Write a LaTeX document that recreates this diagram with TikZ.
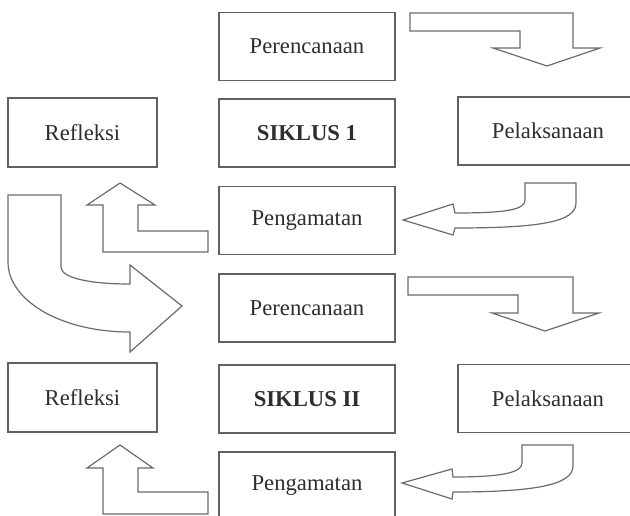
\documentclass[tikz,border=0pt]{standalone}
\usepackage{fontspec}
\setmainfont{Liberation Serif}
\begin{document}
\begin{tikzpicture}[x=0.75pt,y=-0.75pt,
  box/.style={draw=black!62, line width=1.1pt, fill=white, inner sep=0pt,
    text=black!82, font=\fontsize{17}{20}\selectfont},
  cbox/.style={box, minimum width=132pt, minimum height=51pt},
  lbox/.style={box, minimum width=111.75pt, minimum height=51.5pt},
  rbox/.style={box, minimum width=135pt, minimum height=51pt},
  barrow/.style={draw=black!58, line width=0.9pt, fill=white, line join=miter}]
\useasboundingbox (0,0) rectangle (630,516);
\clip (0,0) rectangle (630,516);
% boxes
\node[cbox] (per1) at (307,46.5) {Perencanaan};
\node[cbox] (sik1) at (307,133) {\textbf{SIKLUS 1}};
\node[cbox] (pen1) at (307,220.5) {Pengamatan};
\node[lbox] (ref1) at (82.5,132.5) {Refleksi};
\node[rbox] (pel1) at (548,131) {Pelaksanaan};
\node[cbox] (per2) at (307,308) {Perencanaan};
\node[cbox] (sik2) at (307,399) {\textbf{SIKLUS II}};
\node[cbox] (pen2) at (307,486) {Pengamatan};
\node[lbox] (ref2) at (82.5,397.5) {Refleksi};
\node[rbox] (pel2) at (548,398.5) {Pelaksanaan};
% block arrows, cycle 1
\draw[barrow] (410,13) -- (573,13) -- (573,48) -- (600,48) -- (547,66) -- (493,48) -- (520,48) -- (520,31) -- (410,31) -- cycle;
\draw[barrow] (525,183) -- (576,183) -- (576,203) .. controls (576,222) and (540,228) .. (455,228) -- (453,235) -- (403,220) -- (453,204) -- (455,213) .. controls (505,213) and (525,210) .. (525,200) -- cycle;
\draw[barrow] (120,183) -- (155,205) -- (138,205) -- (138,231) -- (208,231) -- (208,252) -- (103,252) -- (103,205) -- (87,205) -- cycle;
\draw[barrow] (8,195) -- (61,195) -- (61,267) .. controls (61,278) and (90,284) .. (130,284) -- (130,265) -- (182,306) -- (130,352) -- (130,332) .. controls (60,332) and (8,300) .. (8,262) -- cycle;
% block arrows, cycle 2
\draw[barrow] (408,277) -- (573,277) -- (573,313) -- (599,313) -- (545,331) -- (492,313) -- (518,313) -- (518,295) -- (408,295) -- cycle;
\draw[barrow] (522,445) -- (573,445) -- (573,466) .. controls (573,485) and (535,492) .. (453,492) -- (452,499) -- (402,483) -- (452,469) -- (453,477) .. controls (505,477) and (522,472) .. (522,463) -- cycle;
\draw[barrow] (120,445) -- (153,468) -- (138,468) -- (138,492) -- (208,492) -- (208,514) -- (103,514) -- (103,468) -- (87,468) -- cycle;
\end{tikzpicture}
\end{document}
